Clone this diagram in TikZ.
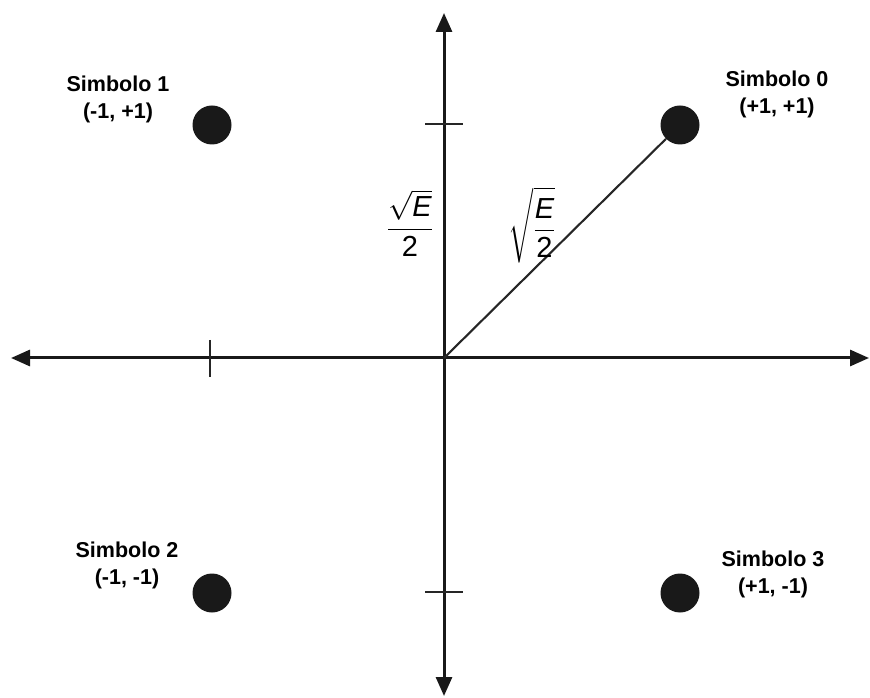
\RequirePackage{fix-cm}
\documentclass[tikz,border=0pt]{standalone}
\usepackage{amsmath}
\usepackage{fontspec}
\setmainfont{Liberation Sans}
\usetikzlibrary{arrows.meta}
\tikzset{
  axis/.style={line width=3pt, draw=black!90, -{Triangle[length=19pt,width=16pt]}},
  tick/.style={line width=2.2pt, draw=black!85},
  dot/.style={circle, fill=black!90, minimum size=39pt, inner sep=0pt},
  lbl/.style={align=center, font=\fontsize{21.5}{27}\selectfont\bfseries, inner sep=0pt},
  mlbl/.style={font=\fontsize{29}{34}\selectfont, inner sep=0pt}
}
\begin{document}
\begin{tikzpicture}[x=1pt,y=1pt]
\useasboundingbox (0,0) rectangle (870,697);
\coordinate (O) at (444,339);
\coordinate (L) at (11,339);
\coordinate (R) at (869,339);
\coordinate (T) at (444,684);
\coordinate (B) at (444,1);
\draw[axis] (O) -- (L);
\draw[axis] (O) -- (R);
\draw[axis] (O) -- (T);
\draw[axis] (O) -- (B);
\coordinate (t1a) at (425,573); \coordinate (t1b) at (463,573);
\coordinate (t2a) at (425,105); \coordinate (t2b) at (463,105);
\coordinate (t3a) at (210,357); \coordinate (t3b) at (210,320);
\draw[tick] (t1a) -- (t1b);
\draw[tick] (t2a) -- (t2b);
\draw[tick] (t3a) -- (t3b);
\node[dot] (s0) at (680,572) {};
\node[dot] (s1) at (212,572) {};
\node[dot] (s2) at (212,104) {};
\node[dot] (s3) at (680,104) {};
\draw[line width=2.1pt, draw=black!85] (O) -- (s0);
\node[lbl] (l0) at (777,603) {Simbolo 0\\(+1, +1)};
\node[lbl] (l1) at (118,598) {Simbolo 1\\(-1, +1)};
\node[lbl] (l2) at (127,132) {Simbolo 2\\(-1, -1)};
\node[lbl] (l3) at (773,123) {Simbolo 3\\(+1, -1)};
\node[mlbl] (f1) at (410,474) {\(\displaystyle\frac{\sqrt{\mbox{\itshape E}}}{\mbox{2}}\)};
\node[mlbl] (f2) at (532,472) {\(\displaystyle\sqrt{\frac{\mbox{\itshape E}}{\mbox{2}}}\)};
\end{tikzpicture}
\end{document}
